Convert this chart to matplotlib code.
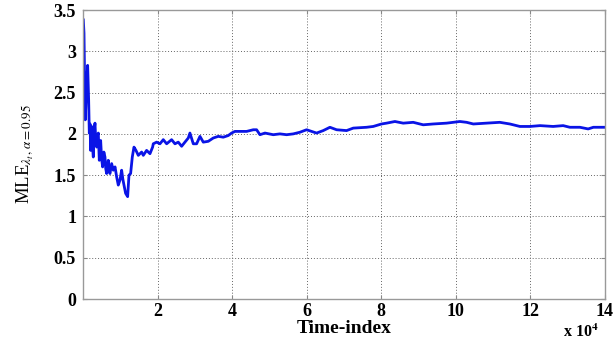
import matplotlib
matplotlib.use("Agg")
import matplotlib.pyplot as plt

# time index in units of 1e4
time_1e4 = [0.009, 0.027, 0.045, 0.062, 0.08, 0.098, 0.125, 0.152, 0.17, 0.19, 0.206, 0.232,
            0.255, 0.277, 0.30, 0.322, 0.345, 0.367, 0.39, 0.411, 0.438, 0.474, 0.50, 0.527,
            0.56, 0.59, 0.61, 0.635, 0.679, 0.70,
            0.724, 0.769, 0.813, 0.86, 0.903, 0.947, 0.992, 1.037, 1.07, 1.10, 1.144, 1.198,
            1.234, 1.278, 1.323, 1.368, 1.421, 1.484, 1.573, 1.618, 1.707, 1.797,
            1.868, 1.886, 1.976, 2.065, 2.154, 2.244, 2.378, 2.467, 2.556, 2.646,
            2.735, 2.825, 2.869, 2.959, 3.048, 3.138, 3.227, 3.361, 3.495, 3.629,
            3.763, 3.897, 3.987, 4.076, 4.21, 4.389, 4.568, 4.657, 4.747, 4.881,
            5.104, 5.283, 5.462, 5.641, 5.819, 5.998, 6.266, 6.445, 6.624, 6.803,
            7.071, 7.25, 7.607, 7.786, 8.009, 8.143, 8.367, 8.59, 8.858, 9.126,
            9.395, 9.752, 9.931, 10.11, 10.29, 10.47, 10.82, 11.18, 11.45, 11.72,
            11.99, 12.26, 12.61, 12.88, 13.06, 13.33, 13.55, 13.69, 14.0]
mle = [3.38, 3.22, 2.61, 2.17, 2.40, 2.61, 2.83, 2.41, 2.01, 2.12, 1.80, 2.09,
       1.85, 1.72, 2.05, 2.13, 1.90, 1.84, 1.98, 2.01, 1.68, 1.92, 1.70, 1.60,
       1.78, 1.72, 1.58, 1.52, 1.68, 1.55,
       1.52, 1.64, 1.56, 1.60, 1.48, 1.38, 1.44, 1.56, 1.45, 1.38, 1.28, 1.24,
       1.50, 1.52, 1.72, 1.84, 1.80, 1.74, 1.78, 1.74, 1.80, 1.76,
       1.84, 1.88, 1.90, 1.88, 1.93, 1.88, 1.93, 1.88, 1.90, 1.85,
       1.90, 1.95, 2.01, 1.88, 1.88, 1.97, 1.90, 1.91, 1.95, 1.97,
       1.96, 1.98, 2.01, 2.03, 2.03, 2.03, 2.05, 2.05, 1.99, 2.01,
       1.99, 2.00, 1.99, 2.00, 2.02, 2.05, 2.01, 2.04, 2.08, 2.05,
       2.04, 2.07, 2.08, 2.09, 2.12, 2.13, 2.15, 2.13, 2.14, 2.11,
       2.12, 2.13, 2.14, 2.15, 2.14, 2.12, 2.13, 2.14, 2.12, 2.09,
       2.09, 2.10, 2.09, 2.10, 2.08, 2.08, 2.06, 2.08, 2.08]

xticks = [2, 4, 6, 8, 10, 12, 14]
yticks = [0, 0.5, 1, 1.5, 2, 2.5, 3, 3.5]
ytick_labels = ["0", "0.5", "1", "1.5", "2", "2.5", "3", "3.5"]

plt.rcParams['font.family'] = ['Liberation Serif', 'DejaVu Serif']
plt.rcParams['mathtext.fontset'] = 'stix'

fig = plt.figure(figsize=(6.16, 3.46), dpi=100)
ax = fig.add_axes([0.1347, 0.1358, 0.8473, 0.8352])
ax.plot(time_1e4, mle, color='#0a14e6', lw=2.0)
ax.set_xlim(0, 14)
ax.set_ylim(0, 3.5)
ax.set_xticks(xticks)
ax.set_xticklabels([str(v) for v in xticks], fontweight='bold', fontsize=13)
ax.set_yticks(yticks)
ax.set_yticklabels(ytick_labels, fontweight='bold', fontsize=13)
ax.tick_params(direction='in', length=3, color='#888888', top=True, right=True)
ax.tick_params(axis='x', pad=3)
ax.tick_params(axis='y', pad=5)
ax.grid(True, linestyle=(0, (1, 2)), color='#666666', lw=0.7)
for s in ax.spines.values():
    s.set_color('#999999')
    s.set_linewidth(1.0)
ax.set_xlabel('Time-index', fontweight='bold', fontsize=14, labelpad=0)
ax.set_ylabel(r'MLE$_{\lambda_t,\,\alpha\mathrm{=0.95}}$', fontsize=13.5, labelpad=13)
fig.text(0.914, 0.025, r'x 10$^{\mathbf{4}}$', fontweight='bold', fontsize=11.5, ha='left')
fig.savefig('out.png', dpi=100)
